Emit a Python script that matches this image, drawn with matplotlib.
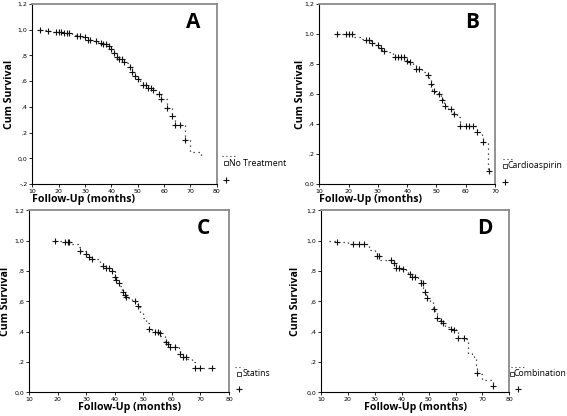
import matplotlib
matplotlib.use("Agg")
import matplotlib.pyplot as plt
import numpy as np

# ---------------- data ----------------
# Panel A - No Treatment
A_time = [13, 16, 18, 20, 22, 25, 27, 29, 31, 33, 35, 37, 39, 40, 41, 42, 43, 45, 46, 47, 48, 49,
          50, 51, 52, 54, 56, 57, 59, 61, 63, 64, 68, 70, 74]
A_surv = [1.0, 0.99, 0.985, 0.98, 0.975, 0.96, 0.95, 0.94, 0.92, 0.91, 0.90, 0.89, 0.87, 0.85, 0.82,
          0.79, 0.77, 0.75, 0.74, 0.71, 0.67, 0.64, 0.62, 0.59, 0.57, 0.55, 0.53, 0.50, 0.46, 0.39,
          0.33, 0.26, 0.14, 0.05, 0.02]
A_cens_t = [13, 16, 19, 20, 21, 22, 23, 24, 27, 28, 30, 31, 32, 34, 36, 37, 38, 39, 40, 41, 42,
            43, 44, 45, 47, 48, 49, 50, 52, 53, 54, 55, 56, 58, 59, 61, 63, 64, 66, 68]
A_cens_s = [1.0, 0.99, 0.985, 0.98, 0.98, 0.975, 0.975, 0.975, 0.95, 0.95, 0.94, 0.92, 0.92, 0.91,
            0.90, 0.89, 0.89, 0.87, 0.85, 0.82, 0.79, 0.77, 0.77, 0.75, 0.71, 0.67, 0.64, 0.62,
            0.57, 0.57, 0.55, 0.55, 0.53, 0.50, 0.46, 0.39, 0.33, 0.26, 0.26, 0.14]

# Panel B - Cardioaspirin
B_time = [16, 22, 24, 26, 27.5, 29, 30.5, 31.5, 33, 35, 39.5, 40.5, 42, 43, 45, 46.5, 47.5, 48,
          48.5, 49.5, 50.5, 51.5, 52.5, 54, 55.5, 57, 58, 64, 65.5, 66, 67.5, 68]
B_surv = [1.0, 0.98, 0.97, 0.96, 0.94, 0.93, 0.91, 0.89, 0.88, 0.85, 0.82, 0.81, 0.80, 0.77, 0.75,
          0.73, 0.70, 0.67, 0.63, 0.61, 0.60, 0.57, 0.52, 0.50, 0.47, 0.45, 0.39, 0.35, 0.31, 0.28,
          0.09, 0.09]
B_cens_t = [16, 19, 20, 21, 26, 27, 28, 30, 31, 32, 36, 37, 38, 39, 40, 41, 43, 44, 47, 48, 49,
            51, 52, 53, 55, 56, 58, 60, 61, 62.5, 64, 66, 68]
B_cens_s = [1.0, 1.0, 1.0, 1.0, 0.96, 0.96, 0.94, 0.93, 0.91, 0.89, 0.85, 0.85, 0.85, 0.85, 0.82,
            0.81, 0.77, 0.77, 0.73, 0.67, 0.62, 0.60, 0.56, 0.52, 0.50, 0.47, 0.39, 0.39, 0.39,
            0.39, 0.35, 0.28, 0.09]

# Panel C - Statins
C_time = [19, 22, 25, 27, 28, 30, 30.5, 31.5, 34, 35, 36, 38, 39, 40, 40.5, 41, 42, 42.5, 43.5,
          44.5, 46, 47.5, 48.5, 49, 50, 51, 52, 53, 55, 56, 57.5, 58.5, 62.5, 63, 64, 65, 67, 68, 74]
C_surv = [1.0, 0.99, 0.98, 0.96, 0.93, 0.91, 0.89, 0.88, 0.87, 0.85, 0.83, 0.82, 0.80, 0.76, 0.74,
          0.72, 0.70, 0.66, 0.64, 0.62, 0.60, 0.58, 0.56, 0.52, 0.49, 0.46, 0.42, 0.40, 0.39, 0.37,
          0.33, 0.30, 0.29, 0.25, 0.23, 0.22, 0.20, 0.16, 0.16]
C_cens_t = [19, 22.5, 23.5, 24, 28, 30, 31, 32, 36, 37, 38, 39, 40, 40.5, 41.5, 43, 43.5, 44,
            47, 48, 52, 54, 55, 56, 58, 58.5, 59.5, 61, 63, 64, 65, 68, 70, 74]
C_cens_s = [1.0, 0.99, 0.99, 0.99, 0.93, 0.91, 0.89, 0.88, 0.83, 0.82, 0.82, 0.80, 0.76, 0.74,
            0.72, 0.66, 0.64, 0.63, 0.60, 0.57, 0.42, 0.40, 0.40, 0.39, 0.33, 0.32, 0.30, 0.30,
            0.25, 0.23, 0.23, 0.16, 0.16, 0.16]

# Panel D - Combination
D_time = [13, 16, 20, 27, 28, 30, 31, 32, 37, 38, 40, 41.5, 42.5, 44.5, 46, 47, 48, 49, 50.5,
          51.5, 52.5, 53, 55, 56, 58, 60, 61, 64, 64.5, 66, 67, 67.5, 68, 69.5, 70, 74]
D_surv = [1.0, 0.99, 0.98, 0.97, 0.94, 0.92, 0.90, 0.87, 0.85, 0.82, 0.81, 0.79, 0.78, 0.76, 0.74,
          0.72, 0.66, 0.62, 0.60, 0.55, 0.52, 0.48, 0.46, 0.43, 0.42, 0.41, 0.36, 0.35, 0.26, 0.25,
          0.22, 0.18, 0.13, 0.12, 0.08, 0.04]
D_cens_t = [16, 22, 24, 26, 31, 31.5, 36, 37, 38, 39, 40.5, 43, 44, 45, 47, 48, 48.5, 49.5, 52,
            53, 54.5, 55.5, 58.5, 59.5, 61, 63, 68, 74]
D_cens_s = [0.99, 0.98, 0.98, 0.98, 0.90, 0.90, 0.87, 0.85, 0.82, 0.82, 0.81, 0.78, 0.76, 0.76,
            0.72, 0.72, 0.66, 0.62, 0.55, 0.49, 0.47, 0.46, 0.42, 0.41, 0.36, 0.36, 0.13, 0.04]

panel_letters = ["A", "B", "C", "D"]
group_names = ["No Treatment", "Cardioaspirin", "Statins", "Combination"]
xticks = [10, 20, 30, 40, 50, 60, 70, 80]

W, H = 567, 416
fig = plt.figure(figsize=(W / 100, H / 100), dpi=100)

FONT = ["Open Sans", "DejaVu Sans"]


def fx(px):
    return px / W


def fy(py):
    return 1 - py / H


def make_ax(l, r, t, b):
    return fig.add_axes([fx(l), fy(b), fx(r) - fx(l), fy(t) - fy(b)])


# axes boxes in pixels: left, right, top, bottom
boxes = [(32.3, 216.7, 4, 184), (319.3, 495, 4, 184),
         (29, 229, 210.3, 392.3), (321, 509.3, 210.3, 392.3)]
xlims = [(10, 80), (10, 70), (10, 80), (10, 80)]
ylims = [(-0.2, 1.2), (0, 1.2), (0, 1.2), (0, 1.2)]
xt = [xticks, xticks[:-1], xticks, xticks]
data = [(A_time, A_surv, A_cens_t, A_cens_s), (B_time, B_surv, B_cens_t, B_cens_s),
        (C_time, C_surv, C_cens_t, C_cens_s), (D_time, D_surv, D_cens_t, D_cens_s)]
ylab_fmt = {1.2: "1,2", 1.0: "1,0", 0.8: ",8", 0.6: ",6", 0.4: ",4", 0.2: ",2", 0.0: "0,0", -0.2: "-,2"}
xlabel_left = [True, True, False, False]
ylabel_x = [15, 306, 11, 301]   # pixel x of the right edge of "Cum Survival"

# legend positions in pixels: (line_x0, line_x1, line_y), (square x,y), text x, (plus x,y)
legends = [((222, 237, 156), (226, 163), 229, (226, 180)),
           ((503, 513, 159), (505, 166), 508, (505, 182)),
           ((235, 243, 367), (239, 374), 243, (239, 389)),
           ((511, 525, 367), (512, 374), 514, (518, 389))]

for i, ax in enumerate([make_ax(*b) for b in boxes]):
    t, s, ct, cs = data[i]
    ax.step(t, s, where="post", color="#222222", linestyle=(0, (1, 3)), linewidth=0.9)
    ax.plot(ct, cs, linestyle="none", marker="+", color="#111111", markersize=4.5, mew=0.8)
    ax.set_xlim(*xlims[i])
    ax.set_ylim(*ylims[i])
    ax.set_xticks(xt[i])
    ax.set_xticklabels([str(v) for v in xt[i]])
    yt = np.round(np.arange(ylims[i][0], 1.2001, 0.2), 1)
    ax.set_yticks(yt)
    ax.set_yticklabels([ylab_fmt[float(v)] for v in yt])
    ax.tick_params(axis="both", labelsize=4.5, length=2, width=0.6, pad=1.5)
    for side in ["left", "bottom"]:
        ax.spines[side].set_color("black")
        ax.spines[side].set_linewidth(0.8)
    for side in ["top", "right"]:
        ax.spines[side].set_color("#8a8a8a")
        ax.spines[side].set_linewidth(1.3)
    ax.set_ylabel("Cum Survival", fontsize=7.6, family=FONT, fontweight="bold")
    l, r, tp, bt = boxes[i]
    ax.yaxis.set_label_coords((ylabel_x[i] - l) / (r - l), 0.5)
    if xlabel_left[i]:
        ax.set_xlabel("Follow-Up (months)", fontsize=7.6, family=FONT, fontweight="bold",
                      loc="left", labelpad=0)
    else:
        ax.set_xlabel("Follow-Up (months)", fontsize=7.6, family=FONT, fontweight="bold",
                      labelpad=0)
    ax.text(0.87, 0.9, panel_letters[i], transform=ax.transAxes, fontsize=15,
            fontweight="bold", family=FONT, ha="center", va="center")

    (lx0, lx1, ly), (sqx, sqy), tx, (plx, ply) = legends[i]
    fig.add_artist(plt.Line2D([fx(lx0), fx(lx1)], [fy(ly), fy(ly)], transform=fig.transFigure,
                              color="#333333", linestyle=(0, (1, 2.5)), linewidth=0.8))
    fig.add_artist(plt.Line2D([fx(sqx)], [fy(sqy)], transform=fig.transFigure, marker="s",
                              markersize=2.5, markerfacecolor="white", markeredgecolor="#222222",
                              markeredgewidth=0.6, linestyle="none"))
    fig.text(fx(tx), fy(sqy), group_names[i], fontsize=6.3, family=FONT, ha="left", va="center")
    fig.add_artist(plt.Line2D([fx(plx)], [fy(ply)], transform=fig.transFigure, marker="+",
                              markersize=4, color="#111111", markeredgewidth=0.8, linestyle="none"))

fig.savefig("out.png", dpi=100)
